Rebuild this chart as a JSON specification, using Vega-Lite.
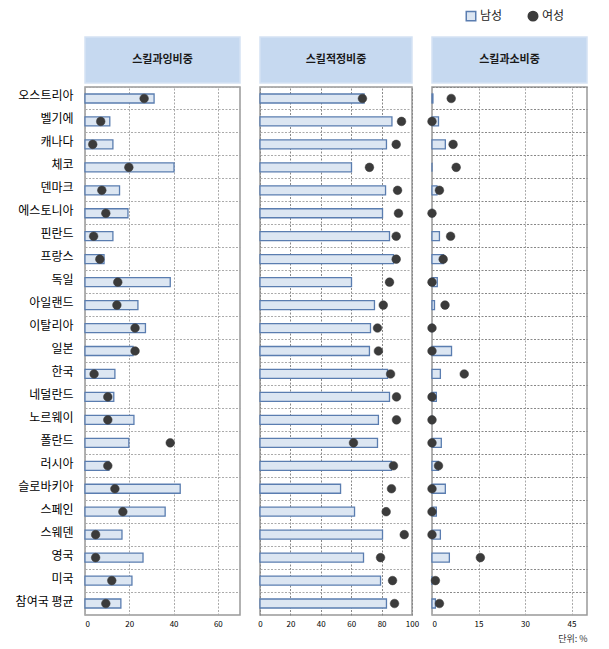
{
  "$schema": "https://vega.github.io/schema/vega-lite/v6.json",
  "padding": {"left": 14, "top": 10, "right": 5, "bottom": 5},
  "background": "white",
  "datasets": {
    "over": [
      {"c": "오스트리아", "남성": 31.2, "여성": 26.7},
      {"c": "벨기에", "남성": 11.2, "여성": 7.1},
      {"c": "캐나다", "남성": 12.6, "여성": 3.5},
      {"c": "체코", "남성": 40.2, "여성": 19.8},
      {"c": "덴마크", "남성": 15.6, "여성": 7.6},
      {"c": "에스토니아", "남성": 19.4, "여성": 9.4},
      {"c": "핀란드", "남성": 12.6, "여성": 3.9},
      {"c": "프랑스", "남성": 8.6, "여성": 6.7},
      {"c": "독일", "남성": 38.5, "여성": 14.8},
      {"c": "아일랜드", "남성": 23.9, "여성": 14.4},
      {"c": "이탈리아", "남성": 27.3, "여성": 22.6},
      {"c": "일본", "남성": 21.7, "여성": 22.6},
      {"c": "한국", "남성": 13.5, "여성": 4.1},
      {"c": "네덜란드", "남성": 13.0, "여성": 10.3},
      {"c": "노르웨이", "남성": 22.1, "여성": 10.3},
      {"c": "폴란드", "남성": 19.8, "여성": 38.5},
      {"c": "러시아", "남성": 10.8, "여성": 10.3},
      {"c": "슬로바키아", "남성": 43.0, "여성": 13.5},
      {"c": "스페인", "남성": 36.2, "여성": 17.1},
      {"c": "스웨덴", "남성": 16.7, "여성": 4.8},
      {"c": "영국", "남성": 26.2, "여성": 4.8},
      {"c": "미국", "남성": 21.2, "여성": 12.1},
      {"c": "참여국 평균", "남성": 16.2, "여성": 9.4}
    ],
    "adequate": [
      {"c": "오스트리아", "남성": 68.5, "여성": 67.4},
      {"c": "벨기에", "남성": 86.8, "여성": 93.1},
      {"c": "캐나다", "남성": 83.2, "여성": 89.6},
      {"c": "체코", "남성": 60.2, "여성": 72.0},
      {"c": "덴마크", "남성": 82.6, "여성": 90.5},
      {"c": "에스토니아", "남성": 80.6, "여성": 91.1},
      {"c": "핀란드", "남성": 85.2, "여성": 89.6},
      {"c": "프랑스", "남성": 87.8, "여성": 89.6},
      {"c": "독일", "남성": 60.2, "여성": 85.2},
      {"c": "아일랜드", "남성": 75.3, "여성": 81.1},
      {"c": "이탈리아", "남성": 72.7, "여성": 77.3},
      {"c": "일본", "남성": 72.0, "여성": 77.9},
      {"c": "한국", "남성": 83.9, "여성": 85.9},
      {"c": "네덜란드", "남성": 85.2, "여성": 89.8},
      {"c": "노르웨이", "남성": 77.9, "여성": 89.8},
      {"c": "폴란드", "남성": 77.3, "여성": 61.5},
      {"c": "러시아", "남성": 86.5, "여성": 87.8},
      {"c": "슬로바키아", "남성": 53.0, "여성": 86.5},
      {"c": "스페인", "남성": 62.2, "여성": 83.0},
      {"c": "스웨덴", "남성": 80.6, "여성": 94.9},
      {"c": "영국", "남성": 68.1, "여성": 79.3},
      {"c": "미국", "남성": 79.3, "여성": 87.2},
      {"c": "참여국 평균", "남성": 83.2, "여성": 88.5}
    ],
    "under": [
      {"c": "오스트리아", "남성": 0.3, "여성": 6.2},
      {"c": "벨기에", "남성": 2.1, "여성": 0},
      {"c": "캐나다", "남성": 4.3, "여성": 6.8},
      {"c": "체코", "남성": 0, "여성": 7.8},
      {"c": "덴마크", "남성": 1.6, "여성": 2.4},
      {"c": "에스토니아", "남성": 0, "여성": 0},
      {"c": "핀란드", "남성": 2.4, "여성": 6.0},
      {"c": "프랑스", "남성": 3.7, "여성": 3.6},
      {"c": "독일", "남성": 1.7, "여성": 0},
      {"c": "아일랜드", "남성": 0.8, "여성": 4.2},
      {"c": "이탈리아", "남성": 0, "여성": 0},
      {"c": "일본", "남성": 6.3, "여성": 0},
      {"c": "한국", "남성": 2.7, "여성": 10.4},
      {"c": "네덜란드", "남성": 1.4, "여성": 0},
      {"c": "노르웨이", "남성": 0, "여성": 0},
      {"c": "폴란드", "남성": 3.0, "여성": 0},
      {"c": "러시아", "남성": 2.1, "여성": 2.1},
      {"c": "슬로바키아", "남성": 4.3, "여성": 0},
      {"c": "스페인", "남성": 1.4, "여성": 0},
      {"c": "스웨덴", "남성": 2.7, "여성": 0},
      {"c": "영국", "남성": 5.6, "여성": 15.6},
      {"c": "미국", "남성": 0, "여성": 1.1},
      {"c": "참여국 평균", "남성": 1.1, "여성": 2.4}
    ],
    "titles": [
      {"k": "over", "t": "스킬과잉비중"},
      {"k": "adequate", "t": "스킬적정비중"},
      {"k": "under", "t": "스킬과소비중"}
    ]
  },
  "columns": 3,
  "bounds": "flush",
  "align": "each",
  "spacing": {"column": 20, "row": 4},
  "concat": [
    {
      "width": 155, "height": 46,
      "data": {"name": "titles"},
      "transform": [{"filter": "datum.k === 'over'"}],
      "view": {"fill": "#c6d9f0", "stroke": "#d5e2f3", "strokeWidth": 1.5},
      "mark": {"type": "text", "fontSize": 11, "fontWeight": "bold", "color": "#1a1a1a"},
      "encoding": {"text": {"field": "t"}}
    },
    {
      "width": 152, "height": 46,
      "data": {"name": "titles"},
      "transform": [{"filter": "datum.k === 'adequate'"}],
      "view": {"fill": "#c6d9f0", "stroke": "#d5e2f3", "strokeWidth": 1.5},
      "mark": {"type": "text", "fontSize": 11, "fontWeight": "bold", "color": "#1a1a1a"},
      "encoding": {"text": {"field": "t"}}
    },
    {
      "width": 155, "height": 46,
      "data": {"name": "titles"},
      "transform": [{"filter": "datum.k === 'under'"}],
      "view": {"fill": "#c6d9f0", "stroke": "#d5e2f3", "strokeWidth": 1.5},
      "mark": {"type": "text", "fontSize": 11, "fontWeight": "bold", "color": "#1a1a1a"},
      "encoding": {"text": {"field": "t"}}
    },
    {
      "width": 155, "height": 528,
      "data": {"name": "over"},
      "transform": [{"fold": ["남성", "여성"], "as": ["s", "v"]}],
      "encoding": {
        "y": {"field": "c", "type": "nominal", "sort": null,
          "scale": {"paddingInner": 0, "paddingOuter": 0},
          "axis": {"title": null, "labelFontSize": 12, "labelColor": "#000", "labelPadding": 12, "ticks": false, "domain": false, "grid": true, "bandPosition": 0, "labelOffset": -2, "gridColor": "#aaa", "gridDash": [2, 1.5]}},
        "x": {"field": "v", "type": "quantitative",
          "scale": {"domain": [0, 70], "nice": false},
          "axis": {"title": null, "values": [0, 20, 40, 60], "ticks": false, "domain": false, "labelFontSize": 8, "labelColor": "#000", "labelPadding": 5, "gridColor": "#aaa", "gridDash": [2, 1.5]}}
      },
      "layer": [
        {
          "transform": [{"filter": "datum.s === '남성'"}],
          "mark": {"type": "bar", "size": 9, "strokeWidth": 1.3},
          "encoding": {
            "color": {"field": "s", "type": "nominal", "scale": {"domain": ["남성", "여성"], "range": ["#dce6f2", "#3b3b3b"]}, "legend": {"title": null}},
            "stroke": {"field": "s", "type": "nominal", "scale": {"domain": ["남성", "여성"], "range": ["#5a7db0", "#3b3b3b"]}, "legend": {"title": null}}
          }
        },
        {
          "transform": [{"filter": "datum.s === '여성'"}],
          "mark": {"type": "point", "filled": true, "size": 75, "opacity": 1, "strokeWidth": 0.5},
          "encoding": {
            "color": {"field": "s", "type": "nominal", "scale": {"domain": ["남성", "여성"], "range": ["#dce6f2", "#3b3b3b"]}, "legend": {"title": null}},
            "stroke": {"field": "s", "type": "nominal", "scale": {"domain": ["남성", "여성"], "range": ["#5a7db0", "#3b3b3b"]}, "legend": {"title": null}},
            "shape": {"field": "s", "type": "nominal", "scale": {"domain": ["남성", "여성"], "range": ["square", "circle"]}, "legend": {"title": null}}
          }
        }
      ]
    },
    {
      "width": 152, "height": 528,
      "data": {"name": "adequate"},
      "transform": [{"fold": ["남성", "여성"], "as": ["s", "v"]}],
      "encoding": {
        "y": {"field": "c", "type": "nominal", "sort": null,
          "scale": {"paddingInner": 0, "paddingOuter": 0},
          "axis": {"title": null, "labels": false, "ticks": false, "domain": false, "grid": true, "bandPosition": 0, "gridColor": "#aaa", "gridDash": [2, 1.5]}},
        "x": {"field": "v", "type": "quantitative",
          "scale": {"domain": [0, 100], "nice": false},
          "axis": {"title": null, "values": [0, 20, 40, 60, 80, 100], "ticks": false, "domain": false, "labelFontSize": 8, "labelColor": "#000", "labelPadding": 5, "labelFlush": false, "gridColor": "#888", "gridDash": [2, 1.5]}}
      },
      "layer": [
        {
          "transform": [{"filter": "datum.s === '남성'"}],
          "mark": {"type": "bar", "size": 9, "strokeWidth": 1.3},
          "encoding": {
            "color": {"field": "s", "type": "nominal", "scale": {"domain": ["남성", "여성"], "range": ["#dce6f2", "#3b3b3b"]}, "legend": {"title": null}},
            "stroke": {"field": "s", "type": "nominal", "scale": {"domain": ["남성", "여성"], "range": ["#5a7db0", "#3b3b3b"]}, "legend": {"title": null}}
          }
        },
        {
          "transform": [{"filter": "datum.s === '여성'"}],
          "mark": {"type": "point", "filled": true, "size": 75, "opacity": 1, "strokeWidth": 0.5},
          "encoding": {
            "color": {"field": "s", "type": "nominal", "scale": {"domain": ["남성", "여성"], "range": ["#dce6f2", "#3b3b3b"]}, "legend": {"title": null}},
            "stroke": {"field": "s", "type": "nominal", "scale": {"domain": ["남성", "여성"], "range": ["#5a7db0", "#3b3b3b"]}, "legend": {"title": null}},
            "shape": {"field": "s", "type": "nominal", "scale": {"domain": ["남성", "여성"], "range": ["square", "circle"]}, "legend": {"title": null}}
          }
        }
      ]
    },
    {
      "width": 155, "height": 528,
      "data": {"name": "under"},
      "transform": [{"fold": ["남성", "여성"], "as": ["s", "v"]}],
      "encoding": {
        "y": {"field": "c", "type": "nominal", "sort": null,
          "scale": {"paddingInner": 0, "paddingOuter": 0},
          "axis": {"title": null, "labels": false, "ticks": false, "domain": false, "grid": true, "bandPosition": 0, "gridColor": "#888", "gridDash": [2, 1.5]}},
        "x": {"field": "v", "type": "quantitative",
          "scale": {"domain": [0, 50], "nice": false},
          "axis": {"title": "단위: %", "titleAnchor": "end", "titleFontSize": 9, "titleFontWeight": "normal", "titleColor": "#333", "titlePadding": 6, "values": [0, 15, 30, 45], "ticks": false, "domain": false, "labelFontSize": 8, "labelColor": "#000", "labelPadding": 5, "gridColor": "#aaa", "gridDash": [2, 1.5]}}
      },
      "layer": [
        {
          "transform": [{"filter": "datum.s === '남성'"}],
          "mark": {"type": "bar", "size": 9, "strokeWidth": 1.3},
          "encoding": {
            "color": {"field": "s", "type": "nominal", "scale": {"domain": ["남성", "여성"], "range": ["#dce6f2", "#3b3b3b"]}, "legend": {"title": null}},
            "stroke": {"field": "s", "type": "nominal", "scale": {"domain": ["남성", "여성"], "range": ["#5a7db0", "#3b3b3b"]}, "legend": {"title": null}}
          }
        },
        {
          "transform": [{"filter": "datum.s === '여성'"}],
          "mark": {"type": "point", "filled": true, "size": 75, "opacity": 1, "strokeWidth": 0.5},
          "encoding": {
            "color": {"field": "s", "type": "nominal", "scale": {"domain": ["남성", "여성"], "range": ["#dce6f2", "#3b3b3b"]}, "legend": {"title": null}},
            "stroke": {"field": "s", "type": "nominal", "scale": {"domain": ["남성", "여성"], "range": ["#5a7db0", "#3b3b3b"]}, "legend": {"title": null}},
            "shape": {"field": "s", "type": "nominal", "scale": {"domain": ["남성", "여성"], "range": ["square", "circle"]}, "legend": {"title": null}}
          }
        }
      ]
    }
  ],
  "config": {
    "font": "Noto Sans CJK KR",
    "view": {"stroke": "#999", "strokeWidth": 1.5},
    "legend": {
      "orient": "none",
      "legendX": 380,
      "legendY": -27,
      "direction": "horizontal",
      "labelFontSize": 12,
      "labelColor": "#222",
      "symbolSize": 90,
      "symbolStrokeWidth": 1.5,
      "columnPadding": 22,
      "labelOffset": 3
    }
  }
}
